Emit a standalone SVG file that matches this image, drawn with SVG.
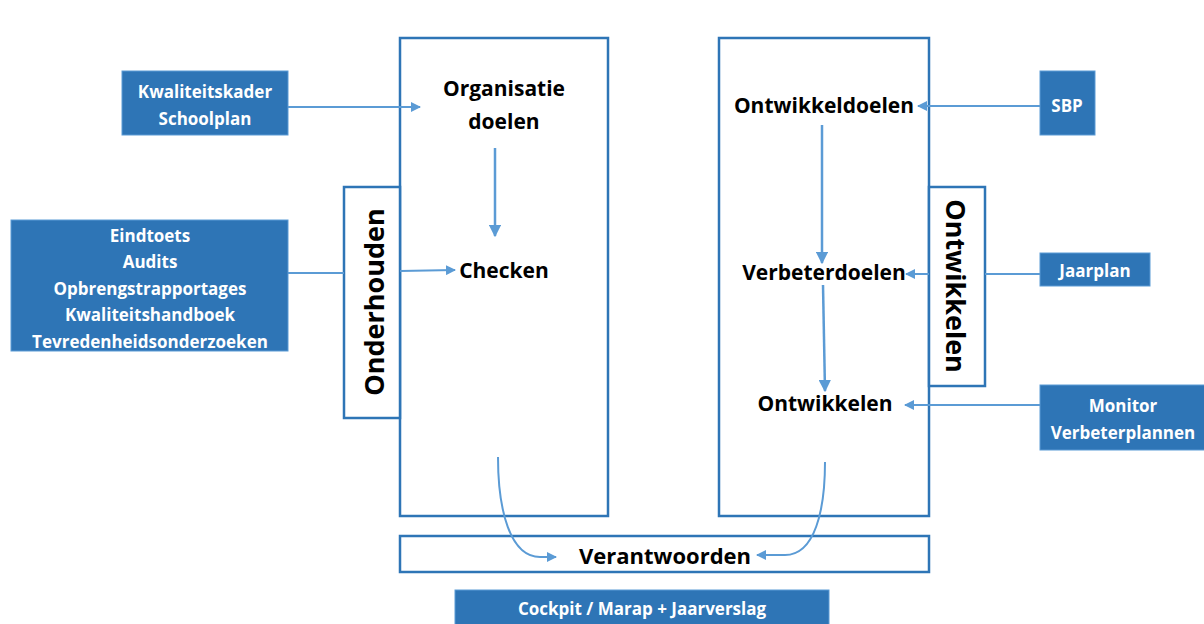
<svg xmlns="http://www.w3.org/2000/svg" width="1204" height="624" viewBox="0 0 1204 624">
<style>
.frame{fill:#fff;stroke:#2E75B6;stroke-width:2.5}
.src{fill:#2E75B6;stroke:#5B9BD5;stroke-width:1}
.wt{fill:#fff;font-family:"Open Sans",Lato,sans-serif;font-weight:bold;font-size:17px;text-anchor:middle;dominant-baseline:central}
.bt{fill:#000;font-family:"Open Sans",Lato,sans-serif;font-weight:bold;font-size:21px;text-anchor:middle;dominant-baseline:central}
.big{font-size:27px}
.con{fill:none;stroke:#5B9BD5;stroke-width:2.5}
.thin{fill:none;stroke:#5B9BD5;stroke-width:2}
</style>
<defs>
<marker id="ah" viewBox="0 0 10 10" refX="9" refY="5" markerWidth="5" markerHeight="5" orient="auto" markerUnits="strokeWidth">
<path d="M0,0 L10,5 L0,10 z" fill="#5B9BD5"/>
</marker>
</defs>
<rect width="1204" height="624" fill="#fff"/>
<g id="left-column">
<rect class="frame" x="400" y="38" width="208" height="478"/>
<text class="bt" x="504" y="88">Organisatie</text>
<text class="bt" x="504" y="121">doelen</text>
<text class="bt" x="504" y="270">Checken</text>
</g>
<g id="right-column">
<rect class="frame" x="719" y="38" width="210" height="478"/>
<text class="bt" x="824" y="105">Ontwikkeldoelen</text>
<text class="bt" x="824" y="272">Verbeterdoelen</text>
<text class="bt" x="825" y="403">Ontwikkelen</text>
</g>
<g id="onderhouden">
<rect class="frame" x="344" y="187" width="56" height="231"/>
<text class="bt big" transform="translate(373,302) rotate(-90)">Onderhouden</text>
</g>
<g id="ontwikkelen-side">
<rect class="frame" x="929" y="187" width="56" height="199"/>
<text class="bt big" transform="translate(956,286) rotate(90)">Ontwikkelen</text>
</g>
<g id="verantwoorden">
<rect class="frame" x="400" y="536" width="529" height="36"/>
<text class="bt" x="665" y="555" style="font-size:22px">Verantwoorden</text>
</g>
<g id="kwaliteitskader">
<rect class="src" x="122" y="71" width="166" height="64"/>
<text class="wt" x="205" y="91">Kwaliteitskader</text>
<text class="wt" x="205" y="118">Schoolplan</text>
</g>
<g id="eindtoets">
<rect class="src" x="11" y="220" width="277" height="131"/>
<text class="wt" x="150" y="235">Eindtoets</text>
<text class="wt" x="150" y="261">Audits</text>
<text class="wt" x="150" y="288">Opbrengstrapportages</text>
<text class="wt" x="150" y="314">Kwaliteitshandboek</text>
<text class="wt" x="150" y="341">Tevredenheidsonderzoeken</text>
</g>
<g id="sbp">
<rect class="src" x="1040" y="71" width="55" height="64"/>
<text class="wt" x="1067" y="105">SBP</text>
</g>
<g id="jaarplan">
<rect class="src" x="1040" y="253" width="110" height="33"/>
<text class="wt" x="1095" y="270">Jaarplan</text>
</g>
<g id="monitor">
<rect class="src" x="1040" y="385" width="166" height="65"/>
<text class="wt" x="1123" y="405">Monitor</text>
<text class="wt" x="1123" y="432">Verbeterplannen</text>
</g>
<g id="cockpit">
<rect class="src" x="455" y="590" width="374" height="36"/>
<text class="wt" x="642" y="608">Cockpit / Marap + Jaarverslag</text>
</g>
<g id="connectors">
<line class="thin" x1="288" y1="107" x2="420" y2="107" marker-end="url(#ah)"/>
<line class="thin" x1="288" y1="273" x2="344" y2="273"/>
<line class="thin" x1="400" y1="271" x2="455" y2="270" marker-end="url(#ah)"/>
<line class="con" x1="495" y1="148" x2="495" y2="236" marker-end="url(#ah)"/>
<line class="thin" x1="1040" y1="106" x2="918" y2="106" marker-end="url(#ah)"/>
<line class="con" x1="822" y1="125" x2="822" y2="263" marker-end="url(#ah)"/>
<line class="thin" x1="1040" y1="274" x2="985" y2="274"/>
<line class="thin" x1="929" y1="274" x2="906" y2="274" marker-end="url(#ah)"/>
<line class="con" x1="823" y1="285" x2="825" y2="391" marker-end="url(#ah)"/>
<line class="thin" x1="1040" y1="405" x2="905" y2="405" marker-end="url(#ah)"/>
<path class="thin" d="M498,457 C498,510 510,557 540,557 L556,557" marker-end="url(#ah)"/>
<path class="thin" d="M825,462 C825,510 815,555 785,555 L757,555" marker-end="url(#ah)"/>
</g>
</svg>
